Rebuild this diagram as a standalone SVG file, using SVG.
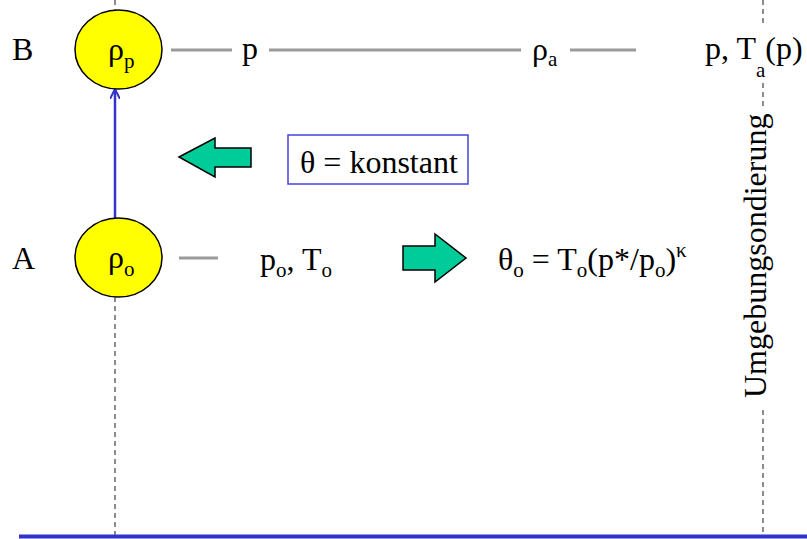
<svg xmlns="http://www.w3.org/2000/svg" width="807" height="539" viewBox="0 0 807 539" font-family="'Liberation Serif', 'Times New Roman', 'DejaVu Serif', serif">
<defs>
<style>
text{font-family:'Liberation Serif','Times New Roman','DejaVu Serif',serif;font-size:32px;fill:#000}
.sub{font-size:21px}
.node{fill:#ffff00;stroke:#000;stroke-width:1.5}
.gray{stroke:#9a9a9a;stroke-width:3;fill:none}
.dash{stroke:#404040;stroke-width:1.2;stroke-dasharray:5 4;fill:none}
.big{fill:#00cc99;stroke:#000;stroke-width:1.5}
</style>
<marker id="ah" viewBox="0 0 10 10" refX="9" refY="5" markerWidth="4" markerHeight="4" orient="auto" markerUnits="strokeWidth">
<path d="M0,0 L10,5 L0,10" fill="none" stroke="#3333cc" stroke-width="2"/>
</marker>
</defs>
<rect width="807" height="539" fill="#fff"/>
<g id="guides">
<line class="dash" x1="115" y1="0" x2="115" y2="10"/>
<line class="dash" x1="115" y1="297" x2="115" y2="535"/>
<line class="dash" x1="763" y1="0" x2="763" y2="23"/>
<line class="dash" x1="763" y1="83" x2="763" y2="107"/>
<line class="dash" x1="763" y1="410" x2="763" y2="535"/>
<line x1="19" y1="536.5" x2="807" y2="536.5" stroke="#3333cc" stroke-width="4"/>
</g>
<g id="connectors">
<line x1="115" y1="218" x2="115" y2="90" stroke="#3333cc" stroke-width="2.5" marker-end="url(#ah)"/>
<line class="gray" x1="171" y1="50" x2="232" y2="50"/>
<line class="gray" x1="269" y1="50" x2="521" y2="50"/>
<line class="gray" x1="570" y1="50" x2="636" y2="50"/>
<line class="gray" x1="179" y1="258" x2="218" y2="258"/>
</g>
<g id="labelB"><text x="12" y="60">B</text></g>
<g id="labelA"><text x="12" y="269">A</text></g>
<g id="nodeB">
<ellipse class="node" cx="118.5" cy="49.5" rx="43.5" ry="39.5"/>
<text x="108" y="60">ρ<tspan class="sub" dy="8">p</tspan></text>
</g>
<g id="nodeA">
<ellipse class="node" cx="118.5" cy="257.5" rx="43.5" ry="39.5"/>
<text x="108" y="268">ρ<tspan class="sub" dy="8">o</tspan></text>
</g>
<g id="pB"><text x="242" y="59">p</text></g>
<g id="rhoA"><text x="532" y="60">ρ<tspan class="sub" dy="6">a</tspan></text></g>
<g id="env"><text x="705" y="59">p, T<tspan class="sub" dy="18">a</tspan><tspan dy="-18">(p)</tspan></text></g>
<g id="arrowLeft"><polygon class="big" points="179,157 215,138 215,148 251,148 251,167 215,167 215,177"/></g>
<g id="constBox">
<rect x="288" y="135" width="180" height="49" fill="#fff" stroke="#4444dd" stroke-width="1.5"/>
<text x="300" y="173">θ = konstant</text>
</g>
<g id="pT"><text x="260" y="270">p<tspan class="sub" dy="7">o</tspan><tspan dy="-7">, T</tspan><tspan class="sub" dy="7">o</tspan></text></g>
<g id="arrowRight"><polygon class="big" points="403,246 435,246 435,234 466,258 435,282 435,270 403,270"/></g>
<g id="theta"><text x="498" y="270">θ<tspan class="sub" dy="7">o</tspan><tspan dy="-7"> = T</tspan><tspan class="sub" dy="7">o</tspan><tspan dy="-7">(p*/p</tspan><tspan class="sub" dy="7">o</tspan><tspan dy="-7">)</tspan><tspan class="sub" dy="-13">κ</tspan></text></g>
<g id="sounding"><text transform="translate(766,398) rotate(-90)">Umgebungsondierung</text></g>
</svg>
